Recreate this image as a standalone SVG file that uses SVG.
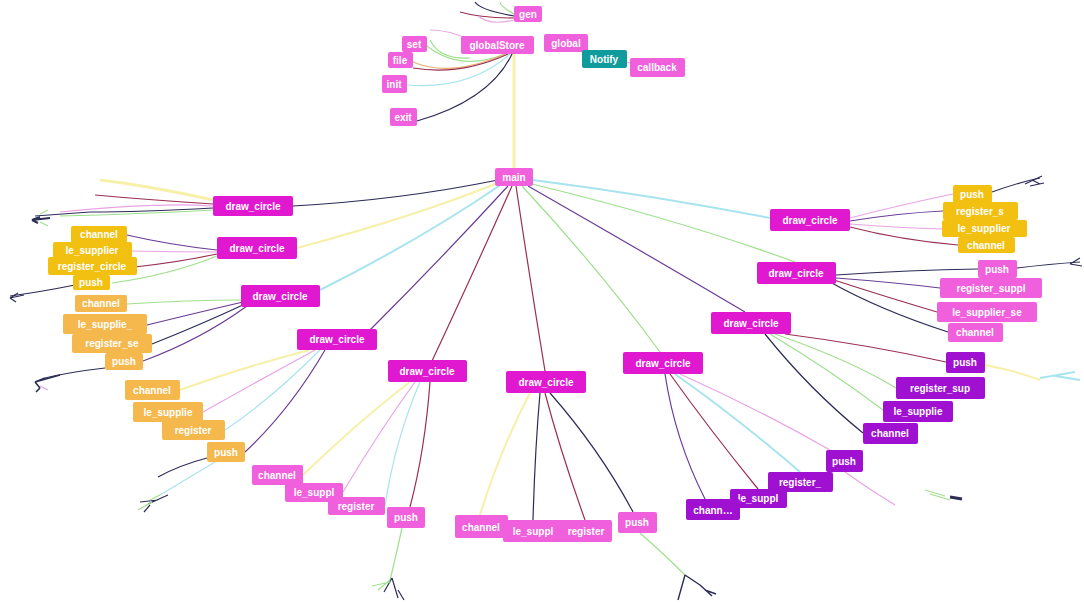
<svg xmlns="http://www.w3.org/2000/svg" width="1084" height="604" viewBox="0 0 1084 604">
<style>
text{font-family:"Liberation Sans",Arial,sans-serif;font-size:10px;font-weight:bold;fill:#fff;text-anchor:middle;dominant-baseline:central}
.m rect{fill:#e018d0}
.p rect{fill:#f060dc}
.y rect{fill:#f2c010}
.o rect{fill:#f4b84c}
.v rect{fill:#a010d0}
.t rect{fill:#109c9c}
#edges path{fill:none;stroke-width:1.2}
.dk{stroke:#2c2c58}.pu{stroke:#6a3c96}.rd{stroke:#9a3050}.gr{stroke:#9ee08c}.cy{stroke:#a8e4ee}.ye{stroke:#f6f0a8}.pk{stroke:#e8a4e4}.or{stroke:#e8b070}
</style>
<rect width="1084" height="604" fill="#fff"/>
<g id="edges">
<!-- top cluster -->
<path class="ye" d="M514,168 L514,54" style="stroke-width:3"/>
<path class="gr" d="M505,54 Q460,72 427,46"/>
<path class="or" d="M505,54 Q450,78 413,62"/>
<path class="rd" d="M508,54 Q460,76 413,68"/>
<path class="cy" d="M510,54 Q470,90 407,85"/>
<path class="dk" d="M512,54 Q490,100 417,121"/>
<path class="pk" d="M470,40 Q450,30 430,30"/>
<path class="gr" d="M430,40 Q440,60 470,58"/>
<path class="dk" d="M514,16 Q480,10 475,2"/>
<path class="rd" d="M514,18 Q480,18 460,12"/>
<path class="pk" d="M514,20 Q490,26 478,16"/>
<path class="gr" d="M514,14 Q500,6 500,2"/>
<path class="cy" d="M588,50 L600,58"/>
<path class="pk" d="M627,62 L640,66"/>
<!-- main to draw_circles -->
<path class="dk" d="M498,180 Q400,200 293,206"/>
<path class="ye" d="M500,182 Q420,215 297,248" style="stroke-width:2"/>
<path class="cy" d="M502,184 Q420,240 320,290" style="stroke-width:2"/>
<path class="pu" d="M508,186 Q440,260 370,330"/>
<path class="rd" d="M512,186 Q470,280 432,361"/>
<path class="rd" d="M516,186 Q530,280 545,371"/>
<path class="gr" d="M522,186 Q600,270 660,352"/>
<path class="pu" d="M528,186 Q640,250 745,312"/>
<path class="gr" d="M532,184 Q680,220 795,262"/>
<path class="cy" d="M533,180 Q650,195 770,218" style="stroke-width:2"/>
<!-- dc1 children far left -->
<path class="dk" d="M213,208 Q140,212 90,212 L35,216"/>
<path class="gr" d="M213,210 Q140,214 60,216"/>
<path class="pk" d="M213,206 Q160,202 60,212"/>
<path class="rd" d="M213,204 Q150,200 95,195"/>
<path class="ye" d="M213,200 Q150,186 100,180" style="stroke-width:3"/>
<!-- dc2 children -->
<path class="pu" d="M217,250 Q170,245 127,235"/>
<path class="pk" d="M217,252 Q175,252 130,251"/>
<path class="rd" d="M217,254 Q180,262 135,267"/>
<path class="gr" d="M217,256 Q170,275 112,283"/>
<path class="dk" d="M75,285 Q40,292 10,296"/>
<!-- dc3 children -->
<path class="gr" d="M241,300 Q190,300 127,304"/>
<path class="pu" d="M243,302 Q200,312 147,325"/>
<path class="dk" d="M245,304 Q200,325 152,344"/>
<path class="pu" d="M247,306 Q200,340 143,361"/>
<path class="dk" d="M105,368 Q70,372 45,378"/>
<!-- dc4 children -->
<path class="ye" d="M310,350 Q250,365 180,390" style="stroke-width:2"/>
<path class="pk" d="M315,350 Q260,380 203,412"/>
<path class="cy" d="M320,350 Q270,400 225,430"/>
<path class="pu" d="M325,350 Q290,410 245,452"/>
<path class="dk" d="M207,458 Q180,465 158,477"/>
<path class="cy" d="M215,462 Q185,480 160,495"/>
<!-- dc5 children -->
<path class="ye" d="M410,382 Q360,420 303,475" style="stroke-width:2"/>
<path class="pk" d="M415,382 Q380,430 343,492"/>
<path class="cy" d="M420,382 Q395,440 385,506"/>
<path class="rd" d="M430,382 Q425,450 410,507"/>
<path class="gr" d="M402,528 Q395,560 390,580"/>
<!-- dc6 children -->
<path class="ye" d="M530,393 Q500,450 480,515" style="stroke-width:2"/>
<path class="dk" d="M540,393 Q535,450 533,520"/>
<path class="rd" d="M545,393 Q560,450 585,520"/>
<path class="dk" d="M550,393 Q600,450 633,512"/>
<path class="gr" d="M640,533 Q665,555 685,575"/>
<!-- dc7 children -->
<path class="pu" d="M665,374 Q675,440 705,499"/>
<path class="rd" d="M670,374 Q710,430 758,489"/>
<path class="cy" d="M675,374 Q740,420 800,472" style="stroke-width:2"/>
<path class="pk" d="M680,374 Q760,410 830,450"/>
<path class="pk" d="M845,472 Q870,490 895,505"/>
<!-- dc8 children -->
<path class="rd" d="M785,334 Q870,345 946,362"/>
<path class="gr" d="M775,334 Q850,360 896,388"/>
<path class="gr" d="M770,334 Q830,370 883,410"/>
<path class="dk" d="M765,334 Q810,390 863,433"/>
<path class="ye" d="M985,365 Q1020,372 1040,380" style="stroke-width:2"/>
<!-- dc9 children -->
<path class="dk" d="M836,275 Q910,270 978,269"/>
<path class="pu" d="M836,278 Q890,282 940,288"/>
<path class="rd" d="M834,280 Q880,295 937,312"/>
<path class="dk" d="M830,282 Q880,310 948,332"/>
<path class="dk" d="M1017,268 Q1050,264 1080,262"/>
<!-- dc10 children -->
<path class="pk" d="M850,218 Q900,205 953,194"/>
<path class="pu" d="M850,221 Q900,213 943,211"/>
<path class="pk" d="M850,224 Q900,228 942,229"/>
<path class="rd" d="M850,227 Q900,240 958,245"/>
<path class="dk" d="M992,192 Q1020,182 1040,178"/>
<!-- small leaf tufts -->
<path class="dk" d="M50,218 L32,220 M32,220 L40,217 M32,220 L38,223" style="stroke-width:2"/>
<path class="gr" d="M40,214 L48,210 M40,222 L48,226"/>
<path class="dk" d="M24,295 L10,298 M10,298 L18,293 M10,298 L16,302"/>
<path class="dk" d="M60,375 L35,382 M35,382 L45,378 M35,382 L40,388 M40,388 L36,392" style="stroke-width:1.6"/>
<path class="pk" d="M40,386 L48,390"/>
<path class="dk" d="M168,495 L148,504 M158,500 L140,502 M150,505 L144,512"/>
<path class="gr" d="M160,495 L150,500 M152,502 L138,510"/>
<path class="dk" d="M392,578 L398,598 M392,578 L384,592 M398,590 L404,600"/>
<path class="gr" d="M390,580 L378,590 M390,582 L372,586"/>
<path class="dk" d="M685,575 L678,600 M685,575 L700,585 M700,585 L712,596 M705,590 L716,594" style="stroke-width:1.4"/>
<path class="gr" d="M925,490 L945,496 M930,494 L950,500"/>
<path class="dk" d="M950,497 L962,499" style="stroke-width:3"/>
<path class="cy" d="M1040,378 L1075,372 M1055,376 L1080,380" style="stroke-width:2"/>
<path class="dk" d="M1070,264 L1080,258 M1070,264 L1082,266"/>
<path class="dk" d="M1025,184 L1042,176 M1030,186 L1044,183 M1032,180 L1040,184"/>
</g>
<g id="n-main" class="p"><rect x="495" y="168" width="38" height="18" rx="2"/><text x="514" y="177">main</text></g>
<g id="n-gen" class="p"><rect x="514" y="6" width="28" height="16" rx="2"/><text x="528" y="14">gen</text></g>
<g id="n-globalStore" class="p"><rect x="461" y="36" width="73" height="18" rx="2"/><text x="497" y="45">globalStore</text></g>
<g id="n-global" class="p"><rect x="544" y="34" width="44" height="18" rx="2"/><text x="566" y="43">global</text></g>
<g id="n-notify" class="t"><rect x="582" y="50" width="45" height="18" rx="2"/><text x="604" y="59">Notify</text></g>
<g id="n-callback" class="p"><rect x="630" y="58" width="55" height="19" rx="2"/><text x="657" y="67">callback</text></g>
<g id="n-set" class="p"><rect x="402" y="36" width="25" height="16" rx="2"/><text x="414" y="44">set</text></g>
<g id="n-file" class="p"><rect x="388" y="52" width="25" height="16" rx="2"/><text x="400" y="60">file</text></g>
<g id="n-init" class="p"><rect x="382" y="75" width="25" height="18" rx="2"/><text x="394" y="84">init</text></g>
<g id="n-exit" class="p"><rect x="390" y="108" width="27" height="18" rx="2"/><text x="403" y="117">exit</text></g>
<g id="dc1" class="m"><rect x="213" y="196" width="80" height="20" rx="2"/><text x="253" y="206">draw_circle</text></g>
<g id="dc2" class="m"><rect x="217" y="237" width="80" height="22" rx="2"/><text x="257" y="248">draw_circle</text></g>
<g id="dc3" class="m"><rect x="241" y="285" width="79" height="22" rx="2"/><text x="280" y="296">draw_circle</text></g>
<g id="dc4" class="m"><rect x="297" y="329" width="80" height="21" rx="2"/><text x="337" y="339">draw_circle</text></g>
<g id="dc5" class="m"><rect x="388" y="360" width="79" height="22" rx="2"/><text x="427" y="371">draw_circle</text></g>
<g id="dc6" class="m"><rect x="506" y="371" width="80" height="22" rx="2"/><text x="546" y="382">draw_circle</text></g>
<g id="dc7" class="m"><rect x="623" y="352" width="80" height="22" rx="2"/><text x="663" y="363">draw_circle</text></g>
<g id="dc8" class="m"><rect x="711" y="312" width="80" height="22" rx="2"/><text x="751" y="323">draw_circle</text></g>
<g id="dc9" class="m"><rect x="757" y="262" width="79" height="22" rx="2"/><text x="796" y="273">draw_circle</text></g>
<g id="dc10" class="m"><rect x="770" y="209" width="80" height="22" rx="2"/><text x="810" y="220">draw_circle</text></g>
<!-- cluster 2 yellow -->
<g id="c2-channel" class="y"><rect x="71" y="226" width="56" height="17" rx="2"/><text x="99" y="234">channel</text></g>
<g id="c2-le" class="y"><rect x="53" y="242" width="79" height="16" rx="2"/><text x="92" y="250">le_supplier</text></g>
<g id="c2-reg" class="y"><rect x="48" y="257" width="89" height="18" rx="2"/><text x="92" y="266">register_circle</text></g>
<g id="c2-push" class="y"><rect x="73" y="275" width="37" height="15" rx="2"/><text x="91" y="282">push</text></g>
<!-- cluster 3 orange -->
<g id="c3-channel" class="o"><rect x="75" y="295" width="52" height="17" rx="2"/><text x="101" y="303">channel</text></g>
<g id="c3-le" class="o"><rect x="63" y="314" width="84" height="20" rx="2"/><text x="105" y="324">le_supplie_</text></g>
<g id="c3-reg" class="o"><rect x="72" y="334" width="80" height="19" rx="2"/><text x="112" y="343">register_se</text></g>
<g id="c3-push" class="o"><rect x="105" y="353" width="38" height="17" rx="2"/><text x="124" y="361">push</text></g>
<!-- cluster 4 orange -->
<g id="c4-channel" class="o"><rect x="125" y="380" width="55" height="20" rx="2"/><text x="152" y="390">channel</text></g>
<g id="c4-le" class="o"><rect x="133" y="402" width="70" height="20" rx="2"/><text x="168" y="412">le_supplie</text></g>
<g id="c4-reg" class="o"><rect x="162" y="420" width="63" height="20" rx="2"/><text x="193" y="430">register</text></g>
<g id="c4-push" class="o"><rect x="207" y="442" width="38" height="20" rx="2"/><text x="226" y="452">push</text></g>
<!-- cluster 5 pink -->
<g id="c5-channel" class="p"><rect x="252" y="465" width="51" height="20" rx="2"/><text x="277" y="475">channel</text></g>
<g id="c5-le" class="p"><rect x="285" y="483" width="58" height="19" rx="2"/><text x="314" y="492">le_suppl</text></g>
<g id="c5-reg" class="p"><rect x="328" y="497" width="57" height="18" rx="2"/><text x="356" y="506">register</text></g>
<g id="c5-push" class="p"><rect x="387" y="507" width="38" height="21" rx="2"/><text x="406" y="517">push</text></g>
<!-- cluster 6 pink -->
<g id="c6-channel" class="p"><rect x="455" y="515" width="53" height="23" rx="2"/><text x="481" y="527">channel</text></g>
<g id="c6-le" class="p"><rect x="503" y="520" width="62" height="22" rx="2"/><text x="533" y="531">le_suppl</text></g>
<g id="c6-reg" class="p"><rect x="560" y="520" width="52" height="22" rx="2"/><text x="586" y="531">register</text></g>
<g id="c6-push" class="p"><rect x="618" y="512" width="39" height="21" rx="2"/><text x="637" y="522">push</text></g>
<!-- cluster 7 purple -->
<g id="c7-push" class="v"><rect x="826" y="450" width="37" height="22" rx="2"/><text x="844" y="461">push</text></g>
<g id="c7-reg" class="v"><rect x="768" y="472" width="65" height="20" rx="2"/><text x="800" y="482">register_</text></g>
<g id="c7-le" class="v"><rect x="730" y="489" width="57" height="19" rx="2"/><text x="758" y="498">le_suppl</text></g>
<g id="c7-channel" class="v"><rect x="686" y="499" width="54" height="21" rx="2"/><text x="713" y="510">chann…</text></g>
<!-- cluster 8 purple -->
<g id="c8-push" class="v"><rect x="946" y="352" width="39" height="21" rx="2"/><text x="965" y="362">push</text></g>
<g id="c8-reg" class="v"><rect x="896" y="377" width="89" height="22" rx="2"/><text x="940" y="388">register_sup</text></g>
<g id="c8-le" class="v"><rect x="883" y="401" width="70" height="21" rx="2"/><text x="918" y="411">le_supplie</text></g>
<g id="c8-channel" class="v"><rect x="863" y="423" width="55" height="21" rx="2"/><text x="890" y="433">channel</text></g>
<!-- cluster 9 pink -->
<g id="c9-push" class="p"><rect x="978" y="260" width="39" height="18" rx="2"/><text x="997" y="269">push</text></g>
<g id="c9-reg" class="p"><rect x="940" y="278" width="102" height="20" rx="2"/><text x="991" y="288">register_suppl</text></g>
<g id="c9-le" class="p"><rect x="937" y="302" width="100" height="20" rx="2"/><text x="987" y="312">le_supplier_se</text></g>
<g id="c9-channel" class="p"><rect x="948" y="323" width="55" height="19" rx="2"/><text x="975" y="332">channel</text></g>
<!-- cluster 10 yellow -->
<g id="c10-push" class="y"><rect x="953" y="185" width="39" height="18" rx="2"/><text x="972" y="194">push</text></g>
<g id="c10-reg" class="y"><rect x="943" y="202" width="75" height="18" rx="2"/><text x="980" y="211">register_s</text></g>
<g id="c10-le" class="y"><rect x="942" y="220" width="85" height="17" rx="2"/><text x="984" y="228">le_supplier</text></g>
<g id="c10-channel" class="y"><rect x="958" y="237" width="57" height="16" rx="2"/><text x="986" y="245">channel</text></g>
</svg>
